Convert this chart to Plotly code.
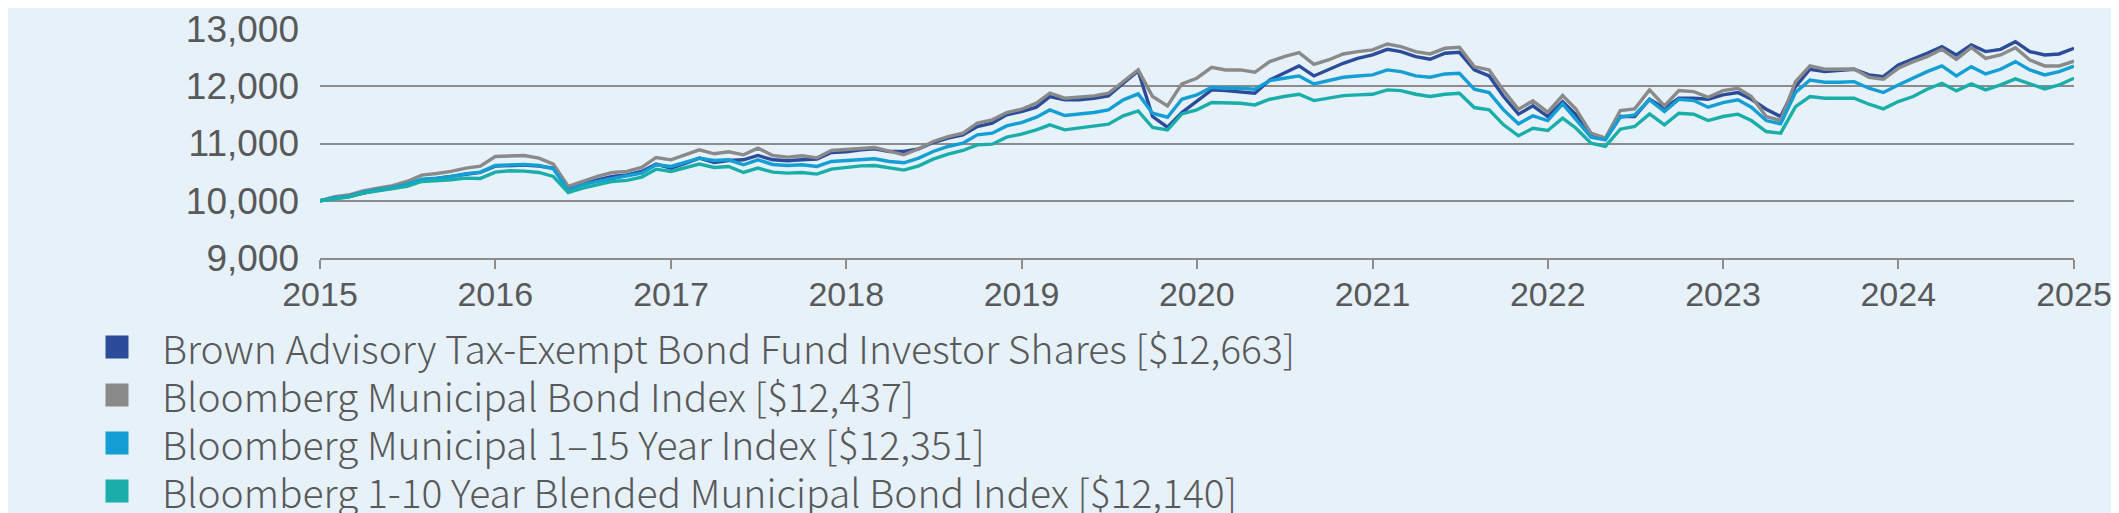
import pandas as pd
import plotly.graph_objects as go

# Monthly growth of $10,000, Dec 2014 (plotted at 2015) through Dec 2024 (plotted at 2025)
dates = pd.date_range("2015-01-01", periods=121, freq="MS")

fund = [
    10000, 10047, 10070, 10134, 10180, 10215, 10273, 10366, 10390, 10424, 10471, 10494,
    10605, 10616, 10622, 10605, 10570, 10203, 10291, 10366, 10424, 10453, 10512, 10640,
    10570, 10657, 10744, 10669, 10704, 10715, 10791, 10715, 10698, 10715, 10727, 10843,
    10855, 10890, 10907, 10860, 10860, 10907, 11017, 11093, 11151, 11297, 11355, 11500,
    11558, 11634, 11820, 11762, 11762, 11791, 11831, 12052, 12267, 11471, 11285, 11541,
    11733, 11936, 11924, 11907, 11878, 12110, 12238, 12355, 12180, 12285, 12401, 12488,
    12547, 12645, 12605, 12517, 12471, 12576, 12593, 12285, 12180, 11820, 11512, 11657,
    11471, 11733, 11500, 11151, 11076, 11471, 11471, 11773, 11616, 11791, 11791, 11773,
    11849, 11890, 11773, 11599, 11471, 11994, 12297, 12256, 12273, 12297, 12198, 12169,
    12372, 12471, 12576, 12692, 12547, 12721, 12605, 12645, 12779, 12605, 12547, 12564,
    12663,
]

muni = [
    10000, 10070, 10100, 10174, 10221, 10262, 10337, 10448, 10477, 10512, 10570, 10605,
    10773, 10779, 10791, 10744, 10640, 10250, 10337, 10424, 10494, 10512, 10581, 10756,
    10715, 10802, 10890, 10820, 10855, 10802, 10919, 10791, 10762, 10785, 10750, 10878,
    10890, 10913, 10930, 10872, 10802, 10907, 11035, 11122, 11180, 11355, 11413, 11541,
    11599, 11704, 11878, 11791, 11808, 11831, 11878, 12081, 12285, 11820, 11657, 12041,
    12140, 12331, 12285, 12285, 12244, 12430, 12517, 12587, 12384, 12459, 12564, 12605,
    12634, 12738, 12692, 12605, 12564, 12663, 12680, 12343, 12285, 11924, 11599, 11744,
    11547, 11837, 11599, 11180, 11093, 11576, 11605, 11936, 11657, 11924, 11907, 11808,
    11924, 11965, 11820, 11471, 11401, 12081, 12355, 12297, 12297, 12302, 12157, 12122,
    12314, 12430, 12517, 12645, 12471, 12680, 12488, 12547, 12674, 12459, 12355, 12355,
    12437,
]

muni_1_15 = [
    10000, 10052, 10076, 10151, 10192, 10227, 10291, 10378, 10395, 10424, 10471, 10500,
    10616, 10628, 10634, 10616, 10558, 10180, 10279, 10337, 10395, 10436, 10483, 10628,
    10599, 10674, 10744, 10704, 10715, 10628, 10715, 10634, 10616, 10628, 10599, 10686,
    10698, 10721, 10733, 10686, 10663, 10744, 10860, 10948, 11006, 11151, 11180, 11308,
    11366, 11459, 11587, 11488, 11517, 11541, 11587, 11762, 11866, 11529, 11459, 11773,
    11849, 11983, 11965, 11965, 11948, 12099, 12140, 12180, 12041, 12093, 12157, 12180,
    12198, 12285, 12256, 12180, 12157, 12215, 12227, 11948, 11890, 11587, 11343, 11483,
    11401, 11692, 11424, 11110, 11064, 11459, 11500, 11762, 11558, 11773, 11750, 11634,
    11715, 11762, 11634, 11401, 11343, 11890, 12110, 12070, 12070, 12081, 11965, 11890,
    12023, 12140, 12256, 12355, 12180, 12343, 12215, 12297, 12430, 12285, 12198, 12256,
    12351,
]

blended_1_10 = [
    10000, 10035, 10064, 10134, 10174, 10203, 10250, 10337, 10349, 10366, 10395, 10390,
    10500, 10523, 10517, 10494, 10424, 10145, 10221, 10279, 10337, 10355, 10413, 10552,
    10512, 10581, 10640, 10581, 10599, 10494, 10570, 10500, 10483, 10494, 10465, 10552,
    10581, 10610, 10616, 10570, 10535, 10610, 10727, 10814, 10878, 10977, 10988, 11110,
    11163, 11238, 11326, 11238, 11267, 11297, 11337, 11483, 11570, 11279, 11238, 11517,
    11587, 11715, 11704, 11704, 11674, 11773, 11820, 11860, 11750, 11791, 11837, 11849,
    11860, 11936, 11924, 11860, 11820, 11860, 11878, 11628, 11587, 11326, 11134, 11267,
    11227, 11442, 11267, 11006, 10948, 11250, 11297, 11517, 11326, 11529, 11512, 11401,
    11471, 11512, 11401, 11209, 11180, 11645, 11820, 11791, 11791, 11791, 11686, 11605,
    11733, 11820, 11948, 12052, 11919, 12041, 11936, 12023, 12128, 12035, 11954, 12023,
    12140,
]

series_names = [
    "Brown Advisory Tax-Exempt Bond Fund Investor Shares [$12,663]",
    "Bloomberg Municipal Bond Index [$12,437]",
    "Bloomberg Municipal 1\u201315 Year Index [$12,351]",
    "Bloomberg 1-10 Year Blended Municipal Bond Index [$12,140]",
]
series_colors = ["#2b4c9b", "#8a8a8a", "#139fd6", "#19aeaa"]
series_values = [fund, muni, muni_1_15, blended_1_10]

year_ticks = pd.date_range("2015-01-01", periods=11, freq="YS")
y_ticks = [9000, 10000, 11000, 12000, 13000]

BG = "#e6f1fa"
TXT = "#58595b"
GRID = "#8c8c8c"

# plot-area geometry in page pixels (used to place the custom legend)
PLOT_L, PLOT_R, PLOT_T, PLOT_B = 320, 2074, 29, 258
PW, PH = PLOT_R - PLOT_L, PLOT_B - PLOT_T
LEG_SQ_X, LEG_TXT_X, LEG_Y0, LEG_DY, LEG_SQ = 117, 161, 347, 48, 23

fig = go.Figure()

for name, color, vals in zip(series_names, series_colors, series_values):
    fig.add_trace(go.Scatter(
        x=dates, y=vals, mode="lines", name=name,
        line=dict(color=color, width=3.4), showlegend=False,
        hoverinfo="skip",
    ))

shapes, annotations = [], []
for i, (name, color) in enumerate(zip(series_names, series_colors)):
    cy = LEG_Y0 + i * LEG_DY
    py = (PLOT_B - cy) / PH
    shapes.append(dict(
        type="rect", xref="paper", yref="paper",
        xsizemode="pixel", ysizemode="pixel",
        xanchor=(LEG_SQ_X - PLOT_L) / PW, yanchor=py,
        x0=-LEG_SQ / 2, x1=LEG_SQ / 2, y0=-LEG_SQ / 2, y1=LEG_SQ / 2,
        fillcolor=color, line=dict(width=0),
    ))
    annotations.append(dict(
        text=name, xref="paper", yref="paper",
        x=(LEG_TXT_X - PLOT_L) / PW, y=py,
        xanchor="left", yanchor="middle", showarrow=False,
        borderpad=0,
        font=dict(family="Noto Sans CJK JP", size=39, color=TXT, weight=300),
    ))

fig.update_layout(
    width=2111, height=505,
    paper_bgcolor=BG, plot_bgcolor=BG,
    margin=dict(l=312, r=45, t=21, b=255, autoexpand=False),
    showlegend=False,
    shapes=shapes, annotations=annotations,
    xaxis=dict(
        range=[dates[0], dates[-1]],
        tickvals=year_ticks, tickformat="%Y",
        showgrid=False, zeroline=False,
        showline=True, linecolor=GRID, linewidth=1.5,
        ticks="outside", ticklen=9, tickwidth=1.5, tickcolor=GRID,
        ticklabelstandoff=-4,
        tickfont=dict(family="Liberation Sans", size=34, color=TXT),
    ),
    yaxis=dict(
        range=[9000, 13000], tickvals=y_ticks, tickformat=",d",
        showgrid=True, gridcolor=GRID, gridwidth=1.5,
        zeroline=False, showline=False, ticks="",
        ticklabelstandoff=20,
        tickfont=dict(family="Liberation Sans", size=37, color=TXT),
    ),
)

fig.write_html("out.html")
